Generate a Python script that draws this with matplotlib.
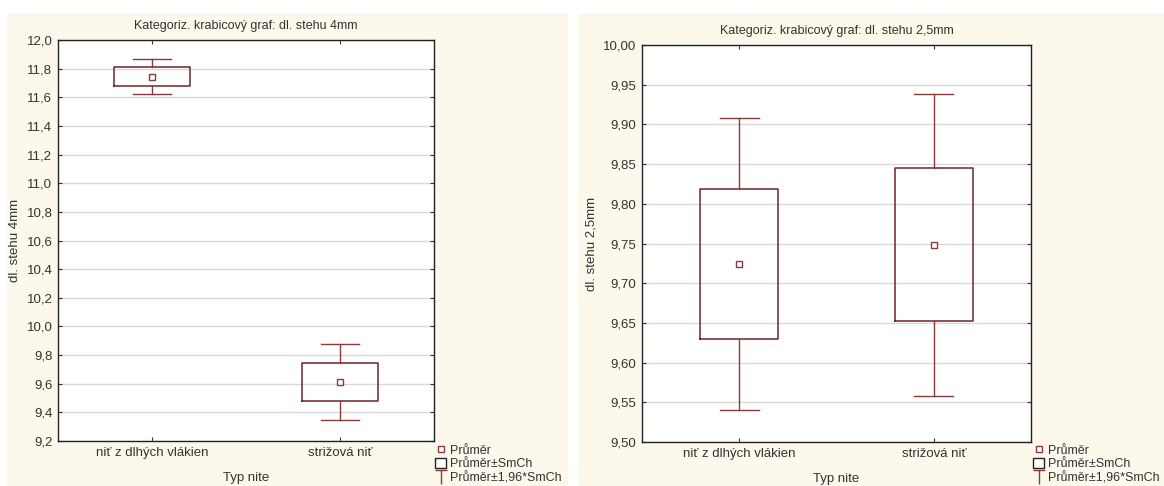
import matplotlib
matplotlib.use('Agg')
import matplotlib.pyplot as plt
from matplotlib import font_manager
from matplotlib.lines import Line2D
from matplotlib.patches import Patch, Rectangle
from matplotlib.path import Path

# Data
categories = ['niť z dlhých vlákien', 'strižová niť']

# dl. stehu 4mm
mean_4 = [11.745, 9.610]
box_lo_4 = [11.680, 9.476]
box_hi_4 = [11.810, 9.746]
wh_lo_4 = [11.622, 9.344]
wh_hi_4 = [11.868, 9.875]
yticks_4 = [9.2, 9.4, 9.6, 9.8, 10.0, 10.2, 10.4, 10.6, 10.8, 11.0, 11.2, 11.4, 11.6, 11.8, 12.0]

# dl. stehu 2,5mm
mean_25 = [9.724, 9.748]
box_lo_25 = [9.630, 9.652]
box_hi_25 = [9.819, 9.845]
wh_lo_25 = [9.540, 9.558]
wh_hi_25 = [9.908, 9.938]
yticks_25 = [9.50, 9.55, 9.60, 9.65, 9.70, 9.75, 9.80, 9.85, 9.90, 9.95, 10.00]

installed = {f.name for f in font_manager.fontManager.ttflist}
fams = [f for f in ['Liberation Sans Narrow', 'Liberation Sans', 'DejaVu Sans'] if f in installed]
plt.rcParams['font.family'] = fams
plt.rcParams['font.size'] = 9

box_col = '#6a2626'
wh_col = '#8a3a3a'
cream = '#fdf8ec'
txt_col = '#333333'
W, H = 1164, 486

# whisker glyph for the legend: a T (cap on top, stem down)
t_marker = Path([(-1, 1), (1, 1), (0, 1), (0, -1.2)],
                [Path.MOVETO, Path.LINETO, Path.MOVETO, Path.LINETO])

fig = plt.figure(figsize=(W / 100, H / 100), dpi=100)
fig.patch.set_facecolor('white')
# cream panels behind each chart
fig.add_artist(Rectangle((7 / W, 0), 561 / W, 473 / H, transform=fig.transFigure,
                         facecolor=cream, edgecolor='none', zorder=-10))
fig.add_artist(Rectangle((578 / W, 0), 586 / W, 473 / H, transform=fig.transFigure,
                         facecolor=cream, edgecolor='none', zorder=-10))


def draw_panel(rect, means, blo, bhi, wlo, whi, yticks, decimals, title, ylabel, legx):
    ax = fig.add_axes(rect)
    stats = []
    for i in range(len(categories)):
        stats.append(dict(med=means[i], q1=blo[i], q3=bhi[i], whislo=wlo[i], whishi=whi[i],
                          mean=means[i], fliers=[], label=categories[i]))
    ax.bxp(stats, positions=range(len(categories)), widths=0.4, capwidths=0.2,
           showmeans=True, showfliers=False,
           boxprops=dict(color=box_col, linewidth=1.1),
           whiskerprops=dict(color=wh_col, linewidth=1.0),
           capprops=dict(color=wh_col, linewidth=1.0),
           medianprops=dict(linestyle='none'),
           meanprops=dict(marker='s', markerfacecolor='white', markeredgecolor=wh_col,
                          markersize=4, markeredgewidth=1.0))
    ax.set_xlim(-0.5, len(categories) - 0.5)
    ax.set_ylim(yticks[0], yticks[-1])
    ax.set_yticks(yticks)
    ax.set_yticklabels([f'{v:.{decimals}f}'.replace('.', ',') for v in yticks])
    ax.set_xticks(range(len(categories)))
    ax.set_xticklabels(categories)
    ax.grid(axis='y', color='#d9d9d9', linewidth=1.0)
    ax.set_axisbelow(True)
    ax.tick_params(direction='in', length=3, width=0.8, color='#333333',
                   top=True, right=True, labelsize=9.5, labelcolor=txt_col, pad=4)
    for s in ax.spines.values():
        s.set_color('#222222')
        s.set_linewidth(1.0)
    ax.set_title(title, fontsize=9, color=txt_col, pad=8)
    ax.set_xlabel('Typ nite', fontsize=9.5, color=txt_col, labelpad=10)
    ax.set_ylabel(ylabel, fontsize=9.5, color=txt_col, labelpad=4)

    handles = [
        Line2D([], [], ls='none', marker='s', mfc='white', mec=wh_col, ms=4, mew=1.0),
        Patch(facecolor='white', edgecolor='#222222', linewidth=1.0),
        Line2D([], [], ls='none', marker=t_marker, mfc='none', mec=wh_col, ms=11, mew=1.0),
    ]
    labels = ['Průměr', 'Průměr±SmCh', 'Průměr±1,96*SmCh']
    fig.legend(handles, labels, loc='lower left', bbox_to_anchor=(legx / W, 0.0),
               frameon=False, fontsize=9, handlelength=0.9, handleheight=0.9,
               handletextpad=0.3, labelspacing=0.1, borderpad=0.15, borderaxespad=0.0,
               labelcolor=txt_col)
    return ax


draw_panel([58 / W, 1 - 441 / H, 376 / W, 401 / H], mean_4, box_lo_4, box_hi_4,
           wh_lo_4, wh_hi_4, yticks_4, 1,
           'Kategoriz. krabicový graf: dl. stehu 4mm', 'dl. stehu 4mm', 433)
draw_panel([642 / W, 1 - 442 / H, 389 / W, 397 / H], mean_25, box_lo_25, box_hi_25,
           wh_lo_25, wh_hi_25, yticks_25, 2,
           'Kategoriz. krabicový graf: dl. stehu 2,5mm', 'dl. stehu 2,5mm', 1031)

fig.savefig('out.png', dpi=100)
